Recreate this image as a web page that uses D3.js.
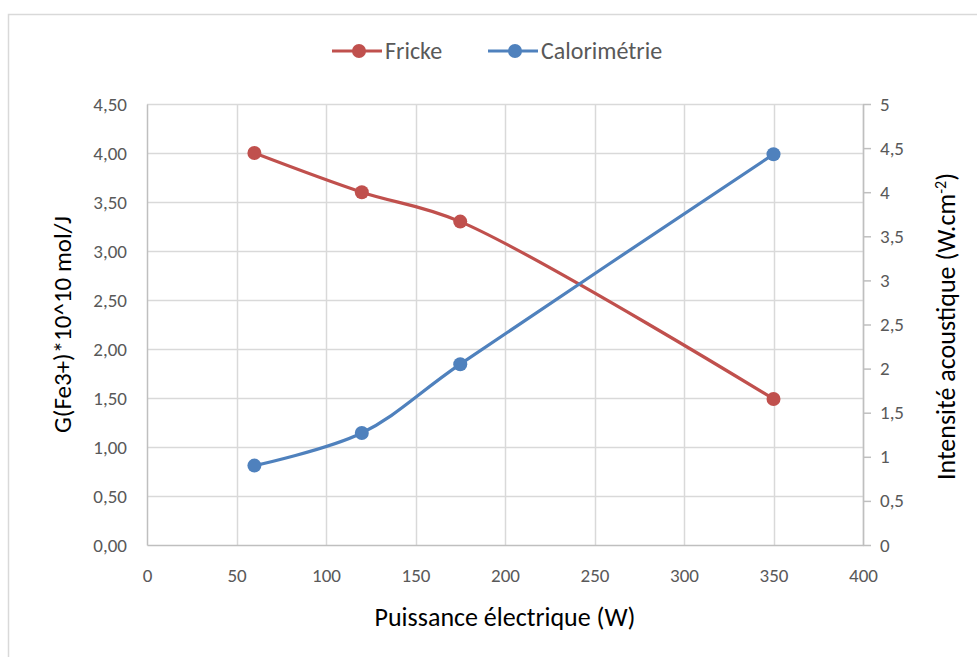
<!DOCTYPE html>
<html><head><meta charset="utf-8">
<script src="https://cdn.jsdelivr.net/npm/d3@7"></script>
<style>
body{margin:0;background:#fff;}
svg{display:block;font-family:Carlito,"Open Sans",Lato,sans-serif;}
</style></head>
<body>
<svg id="c" width="977" height="657"></svg>
<script>
const xValues = [60, 120, 175, 350];
const frickeValues = [4.00, 3.60, 3.30, 1.49];
const caloValues = [0.90, 1.27, 2.05, 4.43];
const xTicks = [0, 50, 100, 150, 200, 250, 300, 350, 400];
const leftTicks = [0, 0.5, 1, 1.5, 2, 2.5, 3, 3.5, 4, 4.5];
const rightTicks = [0, 0.5, 1, 1.5, 2, 2.5, 3, 3.5, 4, 4.5, 5];
const seriesNames = ["Fricke", "Calorimétrie"];
const colors = ["#C0504D", "#4F81BD"];

const svg = d3.select("#c");
const L = 147, R = 863, T = 104, B = 545;
const fmtL = d => d.toFixed(2).replace(".", ",");
const fmtR = d => String(d).replace(".", ",");

svg.append("rect").attr("x", 8.5).attr("y", 14.5).attr("width", 1000).attr("height", 700)
  .attr("fill", "none").attr("stroke", "#d9d9d9").attr("stroke-width", 1.5);

const x = d3.scaleLinear().domain([0, 400]).range([L, R]);
const yL = d3.scaleLinear().domain([0, 4.5]).range([B, T]);
const yR = d3.scaleLinear().domain([0, 5]).range([B, T]);

svg.append("g").selectAll("line").data(leftTicks.slice(1)).join("line")
  .attr("x1", L).attr("x2", R).attr("y1", d => Math.round(yL(d)) + 0.5).attr("y2", d => Math.round(yL(d)) + 0.5)
  .attr("stroke", "#d9d9d9").attr("stroke-width", 1.5);
svg.append("g").selectAll("line").data(xTicks.slice(1)).join("line")
  .attr("x1", d => Math.round(x(d)) + 0.5).attr("x2", d => Math.round(x(d)) + 0.5).attr("y1", T).attr("y2", B)
  .attr("stroke", "#d9d9d9").attr("stroke-width", 1.5);

const axL = svg.append("g").attr("transform", `translate(${L},0)`)
  .call(d3.axisLeft(yL).tickValues(leftTicks).tickFormat(fmtL).tickSize(0).tickPadding(20));
axL.select(".domain").attr("stroke", "#bfbfbf").attr("stroke-width", 1.5);
const axR = svg.append("g").attr("transform", `translate(${R},0)`)
  .call(d3.axisRight(yR).tickValues(rightTicks).tickFormat(fmtR).tickSize(8).tickSizeOuter(0).tickPadding(9));
axR.select(".domain").attr("stroke", "#bfbfbf").attr("stroke-width", 1.5);
axR.selectAll(".tick line").attr("stroke", "#bfbfbf").attr("stroke-width", 1.5);
const axB = svg.append("g").attr("transform", `translate(0,${B})`)
  .call(d3.axisBottom(x).tickValues(xTicks).tickSize(0).tickPadding(24));
axB.select(".domain").attr("stroke", "#bfbfbf").attr("stroke-width", 1.5);

svg.selectAll(".tick text").attr("fill", "#595959").style("font-size", "19px")
  .style("font-family", 'Carlito,"Open Sans",Lato,sans-serif');

svg.append("text").attr("transform", `translate(71,${(T + B) / 2}) rotate(-90)`)
  .attr("text-anchor", "middle").attr("fill", "#000").style("font-size", "25px")
  .text("G(Fe3+)*10^10 mol/J");
const rt = svg.append("text").attr("transform", `translate(955,${(T + B) / 2 + 2}) rotate(-90)`)
  .attr("text-anchor", "middle").attr("fill", "#000").style("font-size", "26px");
rt.append("tspan").text("Intensité acoustique (W.cm");
rt.append("tspan").attr("dy", -9).style("font-size", "16px").text("-2");
rt.append("tspan").attr("dy", 9).text(")");
svg.append("text").attr("x", (L + R) / 2).attr("y", 626).attr("text-anchor", "middle")
  .attr("fill", "#000").style("font-size", "26px").text("Puissance électrique (W)");

const series = [
  { name: seriesNames[0], vals: frickeValues, y: yL, color: colors[0] },
  { name: seriesNames[1], vals: caloValues, y: yR, color: colors[1] }
];
series.forEach(s => {
  const pts = xValues.map((v, i) => [x(v), s.y(s.vals[i])]);
  svg.append("path").attr("d", d3.line().curve(d3.curveCatmullRom.alpha(0.5))(pts))
    .attr("fill", "none").attr("stroke", s.color).attr("stroke-width", 3.2).attr("stroke-linecap", "round");
  svg.append("g").selectAll("circle").data(pts).join("circle")
    .attr("cx", d => d[0]).attr("cy", d => d[1]).attr("r", 7).attr("fill", s.color);
});

const legX = [332, 488];
series.forEach((s, i) => {
  const g = svg.append("g").attr("transform", `translate(${legX[i]},51)`);
  g.append("line").attr("x1", 0).attr("x2", 50).attr("y1", 0).attr("y2", 0)
    .attr("stroke", s.color).attr("stroke-width", 3.2);
  g.append("circle").attr("cx", 27).attr("cy", 0).attr("r", 7).attr("fill", s.color);
  g.append("text").attr("x", 53).attr("y", 8).attr("fill", "#595959").style("font-size", "24px").text(s.name);
});
</script>
</body></html>
